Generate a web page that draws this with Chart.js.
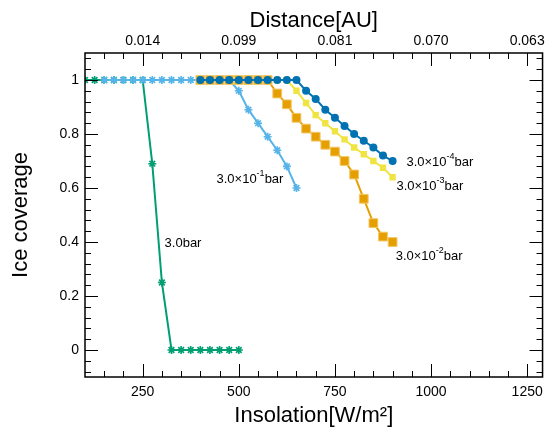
<!DOCTYPE html>
<html><head><meta charset="utf-8">
<script src="https://cdn.jsdelivr.net/npm/chart.js@4.4.0/dist/chart.umd.min.js"></script>
<style>html,body{margin:0;padding:0;background:#fff}canvas{display:block}</style>
</head><body>
<canvas id="c" width="550" height="437"></canvas>
<script>
const FONT = "'Liberation Sans', Arial, Helvetica, sans-serif";

// Tick labels
const insolationTicks = [250, 500, 750, 1000, 1250];
const distanceLabels = ['0.014', '0.099', '0.081', '0.070', '0.063'];
const coverageTicks = [0, 0.2, 0.4, 0.6, 0.8, 1];

// Series: 3.0 bar
const x3bar = [100,125,150,175,200,225,250,275,300,325,350,375,400,425,450,475,500];
const y3bar = [1,1,1,1,1,1,1,0.69,0.25,0,0,0,0,0,0,0,0];
// Series: 3.0e-1 bar
const x3e1 = [150,175,200,225,250,275,300,325,350,375,400,425,450,475,500,525,550,575,600,625,650];
const y3e1 = [1,1,1,1,1,1,1,1,1,1,1,1,1,1,0.96,0.89,0.84,0.79,0.74,0.68,0.60];
// Series: 3.0e-2 bar
const x3e2 = [400,425,450,475,500,525,550,575,600,625,650,675,700,725,750,775,800,825,850,875,900];
const y3e2 = [1,1,1,1,1,1,1,1,0.95,0.91,0.86,0.82,0.79,0.76,0.735,0.70,0.65,0.56,0.47,0.42,0.40];
// Series: 3.0e-3 bar
const x3e3 = [400,425,450,475,500,525,550,575,600,625,650,675,700,725,750,775,800,825,850,875,900];
const y3e3 = [1,1,1,1,1,1,1,1,1,1,0.96,0.915,0.87,0.84,0.81,0.78,0.75,0.725,0.70,0.675,0.64];
// Series: 3.0e-4 bar
const x3e4 = [400,425,450,475,500,525,550,575,600,625,650,675,700,725,750,775,800,825,850,875,900];
const y3e4 = [1,1,1,1,1,1,1,1,1,1,1,0.96,0.93,0.89,0.86,0.83,0.80,0.775,0.75,0.72,0.70];

// Inline series labels: [main, exponent, suffix]
const seriesText = [
  ['3.0\u00d710', '-4', 'bar'],
  ['3.0\u00d710', '-3', 'bar'],
  ['3.0\u00d710', '-2', 'bar'],
  ['3.0\u00d710', '-1', 'bar'],
  ['3.0bar', '', '']
];
// label anchor (data coords) for each inline label
const labelAnchorX = [936, 910, 908, 442, 307];
const labelAnchorY = [0.693, 0.604, 0.348, 0.63, 0.396];

const pts = (xs, ys) => xs.map((x, i) => ({x, y: ys[i]}));

const boxTicks = {
  id: 'boxTicks',
  afterDatasetsDraw(chart) {
    const {ctx, chartArea: a, scales} = chart;
    const xs = scales.x, ys = scales.y;
    ctx.save();
    ctx.strokeStyle = '#000';
    ctx.lineWidth = 1;
    ctx.beginPath();
    const MAJ = 13, MIN = 6;
    for (let v = 150; v <= 1290; v += 50) {
      const major = insolationTicks.includes(v);
      const L = major ? MAJ : MIN;
      const px = Math.round(xs.getPixelForValue(v)) + 0.5;
      ctx.moveTo(px, a.bottom); ctx.lineTo(px, a.bottom - L);
      ctx.moveTo(px, a.top); ctx.lineTo(px, a.top + L);
    }
    for (let k = -2; k <= 27; k++) {
      const v = k * 0.04;
      const major = (k % 5 === 0);
      const L = major ? MAJ : MIN;
      const py = Math.round(ys.getPixelForValue(v)) + 0.5;
      ctx.moveTo(a.left, py); ctx.lineTo(a.left + L, py);
      ctx.moveTo(a.right, py); ctx.lineTo(a.right - L, py);
    }
    ctx.stroke();
    ctx.lineWidth = 1.5;
    ctx.strokeRect(a.left, a.top, a.right - a.left, a.bottom - a.top);
    ctx.fillStyle = '#000';
    ctx.textBaseline = 'middle';
    ctx.textAlign = 'left';
    seriesText.forEach((t, i) => {
      let px = xs.getPixelForValue(labelAnchorX[i]);
      const py = ys.getPixelForValue(labelAnchorY[i]);
      ctx.font = `13px ${FONT}`;
      ctx.fillText(t[0], px, py);
      px += ctx.measureText(t[0]).width;
      if (t[1]) {
        ctx.font = `9px ${FONT}`;
        ctx.fillText(t[1], px, py - 6);
        px += ctx.measureText(t[1]).width;
      }
      if (t[2]) {
        ctx.font = `13px ${FONT}`;
        ctx.fillText(t[2], px, py);
      }
    });
    ctx.restore();
  }
};

const tickFont = {family: FONT, size: 14};
const titleFont = {family: FONT, size: 22};

new Chart(document.getElementById('c'), {
  type: 'line',
  data: {
    datasets: [
      {label: '3.0e-4 bar', data: pts(x3e4, y3e4), borderColor: '#0072B2', backgroundColor: '#0072B2',
       borderWidth: 2, pointStyle: 'circle', pointRadius: 4, pointBorderWidth: 0},
      {label: '3.0e-3 bar', data: pts(x3e3, y3e3), borderColor: '#F0E442', backgroundColor: '#F0E442',
       borderWidth: 2, pointStyle: 'rect', pointRadius: 4.5, pointBorderWidth: 0},
      {label: '3.0e-2 bar', data: pts(x3e2, y3e2), borderColor: '#E69F00', backgroundColor: '#E69F00',
       borderWidth: 2, pointStyle: 'rect', pointRadius: 6.2, pointBorderWidth: 1, pointBorderColor: '#F3C767'},
      {label: '3.0e-1 bar', data: pts(x3e1, y3e1), borderColor: '#56B4E9', backgroundColor: '#56B4E9',
       borderWidth: 2, pointStyle: 'star', pointRadius: 4, pointBorderWidth: 1.6, pointBorderColor: '#56B4E9'},
      {label: '3.0 bar', data: pts(x3bar, y3bar), borderColor: '#009E73', backgroundColor: '#009E73',
       borderWidth: 2, pointStyle: 'star', pointRadius: 4, pointBorderWidth: 1.6, pointBorderColor: '#009E73'}
    ]
  },
  options: {
    responsive: false,
    devicePixelRatio: 1,
    animation: false,
    layout: {padding: {left: 0, right: 6, top: 0, bottom: 0}},
    plugins: {legend: {display: false}, tooltip: {enabled: false}},
    elements: {line: {tension: 0}},
    scales: {
      x: {
        type: 'linear', position: 'bottom', min: 100, max: 1290,
        grid: {display: false, drawTicks: false}, border: {display: false},
        ticks: {font: tickFont, color: '#000', padding: 7, maxRotation: 0, autoSkip: false,
                callback: v => String(v)},
        afterBuildTicks: s => { s.ticks = insolationTicks.map(v => ({value: v})); },
        afterFit: s => { s.height = 60; },
        title: {display: true, text: 'Insolation[W/m\u00b2]', font: titleFont, color: '#000', padding: {top: 0, bottom: 8}}
      },
      x2: {
        type: 'linear', position: 'top', min: 100, max: 1290,
        grid: {display: false, drawTicks: false}, border: {display: false},
        ticks: {font: tickFont, color: '#000', padding: 3, maxRotation: 0, autoSkip: false,
                callback: (v, i) => distanceLabels[i]},
        afterBuildTicks: s => { s.ticks = insolationTicks.map(v => ({value: v})); },
        afterFit: s => { s.height = 53; },
        title: {display: true, text: 'Distance[AU]', font: titleFont, color: '#000', padding: {top: 8, bottom: 0}}
      },
      y: {
        type: 'linear', position: 'left', min: -0.1, max: 1.1,
        grid: {display: false, drawTicks: false}, border: {display: false},
        ticks: {font: tickFont, color: '#000', padding: 6,
                callback: v => String(+(+v).toFixed(1))},
        afterBuildTicks: s => { s.ticks = coverageTicks.map(v => ({value: v})); },
        afterFit: s => { s.width = 85; },
        title: {display: true, text: 'Ice coverage', font: titleFont, color: '#000', padding: {top: 8, bottom: 0}}
      }
    }
  },
  plugins: [boxTicks]
});
</script>
</body></html>
